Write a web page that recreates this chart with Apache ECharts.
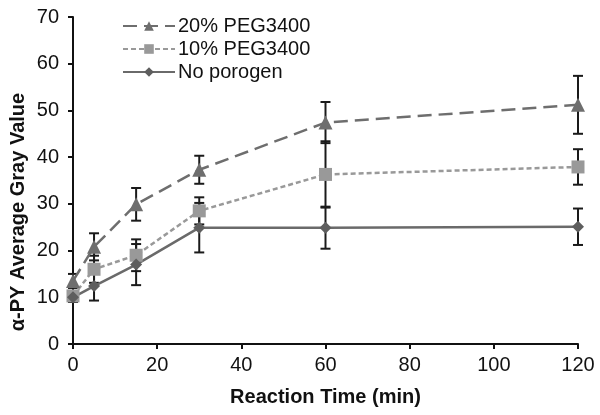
<!DOCTYPE html>
<html>
<head>
<meta charset="utf-8">
<script src="https://cdn.jsdelivr.net/npm/echarts@6/dist/echarts.min.js"></script>
<style>html,body{margin:0;padding:0;background:#fff;}#c{width:600px;height:415px;}</style>
</head>
<body>
<div id="c"></div>
<script>
const times = [0, 5, 15, 30, 60, 120];
const peg20 = [13.5, 20.8, 29.9, 37.3, 47.4, 51.2];
const peg20Err = [1.5, 2.9, 3.5, 3.0, 4.4, 6.2];
const peg10 = [10.3, 16.0, 19.0, 28.5, 36.3, 37.9];
const peg10Err = [1.0, 2.9, 3.4, 2.9, 7.1, 3.8];
const noPorogen = [10.0, 12.4, 17.0, 24.9, 24.9, 25.1];
const noPorogenErr = [1.0, 3.1, 4.4, 5.3, 4.5, 3.9];
const seriesNames = ['20% PEG3400', '10% PEG3400', 'No porogen'];
const xTicks = [0, 20, 40, 60, 80, 100, 120];
const yTicks = [0, 10, 20, 30, 40, 50, 60, 70];
const yAxisTitle = 'α-PY Average Gray Value';

const FONT = 'Liberation Sans, Arial, sans-serif';
function pts(vals){ return times.map((t,i)=>[t, vals[i]]); }
function errs(vals, e){ return times.map((t,i)=>[t, vals[i]-e[i], vals[i]+e[i]]); }

function errSeries(vals, e){
  return {
    type: 'custom',
    z: 1,
    silent: true,
    data: errs(vals, e),
    renderItem: function(params, api){
      const x = api.value(0), lo = api.value(1), hi = api.value(2);
      const pt = api.coord([x, hi]);
      const pb = api.coord([x, lo]);
      const w = 5;
      const st = {stroke: '#1a1a1a', lineWidth: 2};
      return {type: 'group', children: [
        {type: 'line', shape: {x1: pt[0], y1: pt[1], x2: pb[0], y2: pb[1]}, style: st},
        {type: 'line', shape: {x1: pt[0]-w, y1: pt[1], x2: pt[0]+w, y2: pt[1]}, style: st},
        {type: 'line', shape: {x1: pb[0]-w, y1: pb[1], x2: pb[0]+w, y2: pb[1]}, style: st}
      ]};
    }
  };
}

const chart = echarts.init(document.getElementById('c'), null, {renderer: 'canvas'});
chart.setOption({
  backgroundColor: '#fff',
  animation: false,
  grid: {left: 73, right: 22, top: 17, bottom: 71, outerBoundsMode: 'none'},
  legend: {
    data: seriesNames,
    orient: 'vertical',
    left: 117,
    top: 11,
    itemWidth: 52,
    itemHeight: 12,
    itemGap: 3,
    textStyle: {fontFamily: FONT, fontSize: 20, color: '#111', padding: [0,0,0,-2]}
  },
  graphic: [{
    type: 'text',
    x: 18, y: 212,
    rotation: Math.PI / 2,
    style: {
      text: yAxisTitle,
      fontFamily: FONT, fontSize: 20, fontWeight: 'bold', fill: '#111',
      align: 'center', verticalAlign: 'middle'
    }
  }],
  xAxis: {
    type: 'value', min: 0, max: 120, interval: 20,
    name: 'Reaction Time (min)', nameLocation: 'middle', nameGap: 43,
    nameTextStyle: {fontFamily: FONT, fontSize: 20, fontWeight: 'bold', color: '#111'},
    axisLine: {lineStyle: {color: '#111', width: 2}},
    axisTick: {show: true, inside: false, length: 5, lineStyle: {color: '#111', width: 2}},
    axisLabel: {fontFamily: FONT, fontSize: 20, color: '#111', margin: 11},
    splitLine: {show: false}
  },
  yAxis: {
    type: 'value', min: 0, max: 70, interval: 10,
    axisLine: {show: true, lineStyle: {color: '#111', width: 2}},
    axisTick: {show: true, inside: false, length: 5, lineStyle: {color: '#111', width: 2}},
    axisLabel: {fontFamily: FONT, fontSize: 20, color: '#111', margin: 14},
    splitLine: {show: false}
  },
  series: [
    {
      name: seriesNames[0], type: 'line', z: 3, data: pts(peg20),
      symbol: 'triangle', symbolSize: 14,
      itemStyle: {color: '#6e6e6e'},
      lineStyle: {color: '#6e6e6e', width: 2.5, type: [14, 7]}
    },
    {
      name: seriesNames[1], type: 'line', z: 3, data: pts(peg10),
      symbol: 'rect', symbolSize: 13,
      itemStyle: {color: '#999999'},
      lineStyle: {color: '#999999', width: 2.5, type: [5, 3]}
    },
    {
      name: seriesNames[2], type: 'line', z: 3, data: pts(noPorogen),
      symbol: 'diamond', symbolSize: 12,
      itemStyle: {color: '#5e5e5e'},
      lineStyle: {color: '#6a6a6a', width: 2.5, type: 'solid'}
    },
    errSeries(peg20, peg20Err),
    errSeries(peg10, peg10Err),
    errSeries(noPorogen, noPorogenErr)
  ]
});
</script>
</body>
</html>
